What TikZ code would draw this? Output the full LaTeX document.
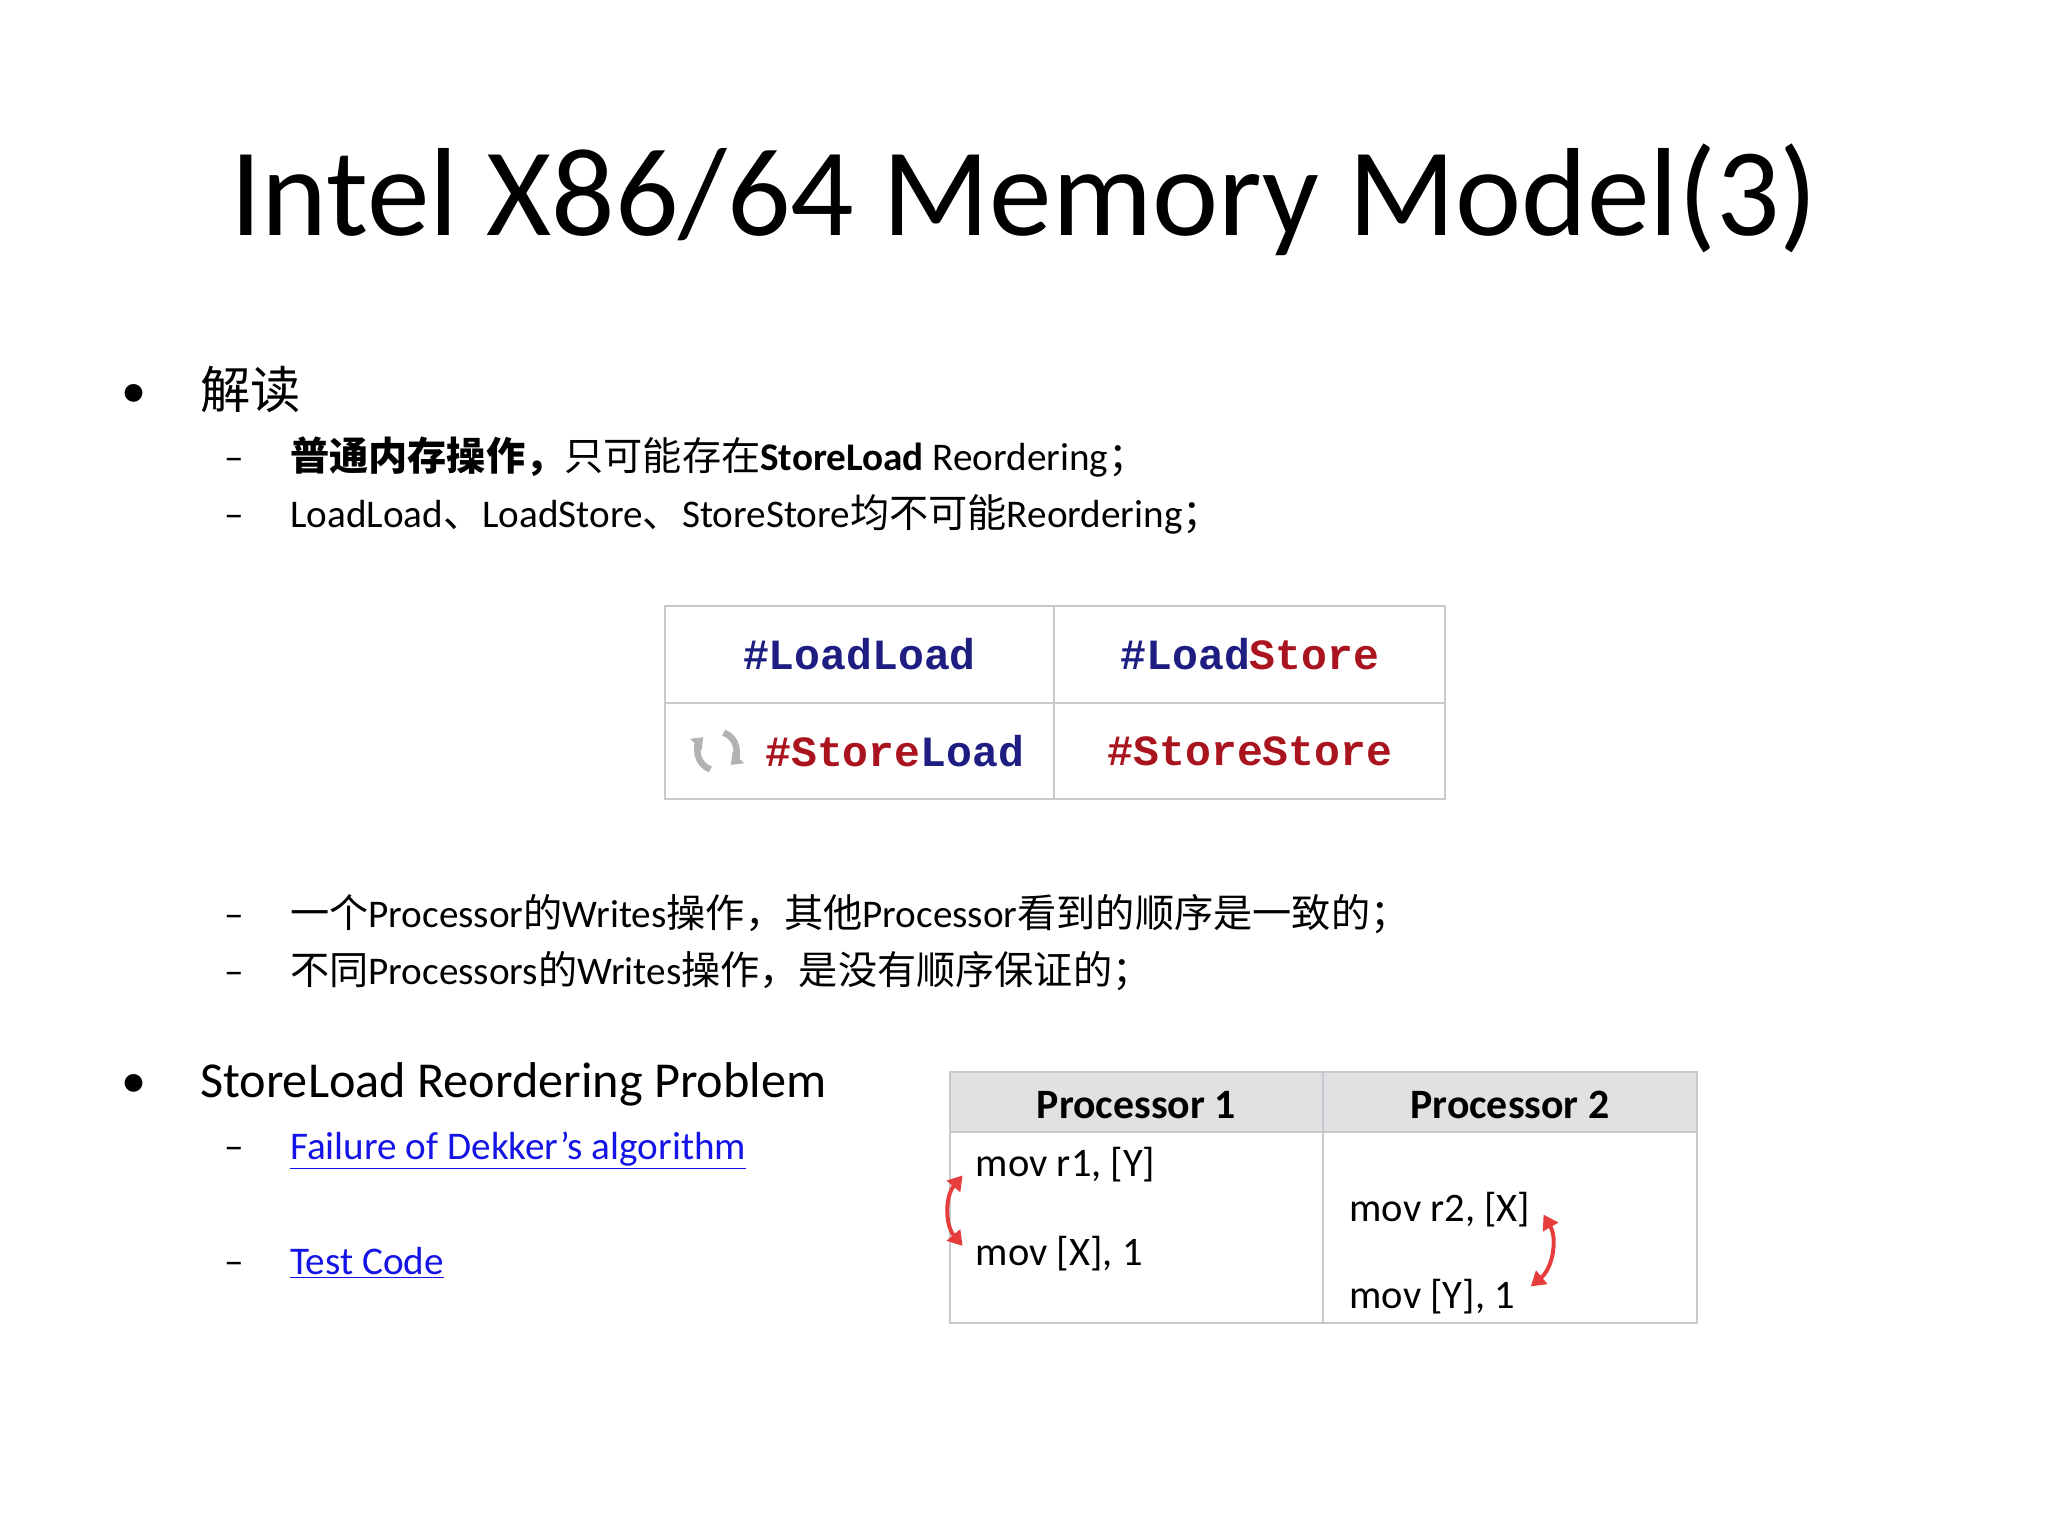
\documentclass[tikz,border=0pt]{standalone}
\usepackage{fontspec}
\setmainfont{Carlito}
\newfontfamily\cjk{Noto Sans CJK SC}
\newfontfamily\monob{Liberation Mono}
\usetikzlibrary{arrows.meta,calc}
\definecolor{kblue}{RGB}{30,30,130}
\definecolor{kred}{RGB}{170,20,30}
\definecolor{lnk}{RGB}{20,20,230}
\definecolor{hdr}{RGB}{225,225,228}
\definecolor{grid}{RGB}{200,200,205}
\definecolor{arr}{RGB}{230,60,60}
\tikzset{
 txt/.style={anchor=base west,inner sep=0pt,font=\fontsize{30}{32}\selectfont},
 big/.style={anchor=base west,inner sep=0pt,font=\fontsize{38.5}{42}\selectfont},
 dashmark/.style={anchor=base west,inner sep=0pt,font=\fontsize{30}{32}\selectfont},
 code/.style={inner sep=0pt,font=\fontsize{33}{35}\monob\bfseries},
 cell/.style={draw=grid,line width=1.5pt},
 instr/.style={anchor=base west,inner sep=0pt,font=\fontsize{31}{33}\selectfont},
 redarr/.style={arr,line width=3pt,{Triangle[length=11pt,width=13pt]}-{Triangle[length=11pt,width=13pt]}},
 icon/.style={gray!60,line width=5pt,-{Triangle[length=8pt,width=12pt]}}
}
\newcommand{\lk}[1]{\textcolor{lnk}{\underline{#1}}}
\begin{document}
\begin{tikzpicture}[x=1pt,y=-1pt]
\fill[white] (0,0) rectangle (1568,1176);
\node[inner sep=0pt,anchor=base,font=\fontsize{96}{100}\selectfont] (title) at (784,180) {Intel X86/64 Memory Model(3)};
% bullets
\node[big] (b1) at (93,312) {•};
\node[big] (t1) at (153,313) {\cjk 解读};
\node[dashmark] (d1) at (172,360) {–};
\node[txt] (l1) at (222,360) {\cjk\bfseries 普通内存操作，\mdseries 只可能存在\rmfamily\bfseries StoreLoad \mdseries Reordering\cjk ；};
\node[dashmark] (d2) at (172,404) {–};
\node[txt] (l2) at (222,404) {LoadLoad{\cjk 、}LoadStore{\cjk 、}StoreStore{\cjk 均不可能}Reordering{\cjk ；}};
% table 1
\draw[cell] (509,464) rectangle (1106,612);
\draw[cell] (807,464) -- (807,612);
\draw[cell] (509,538) -- (1106,538);
\node[code,text=kblue] (ll) at (658,501) {\#LoadLoad};
\node[code] (ls) at (957,501) {\textcolor{kblue}{\#Load}\textcolor{kred}{Store}};
\node[code] (sl) at (685,575) {\textcolor{kred}{\#Store}\textcolor{kblue}{Load}};
\node[code,text=kred] (ss) at (957,575) {\#StoreStore};
\begin{scope}[shift={(549,575)},y=1pt]
\draw[icon] (250:15) arc[start angle=250,end angle=135,radius=15];
\draw[icon] (70:15) arc[start angle=70,end angle=-45,radius=15];
\end{scope}
% more bullets
\node[dashmark] (d3) at (172,710) {–};
\node[txt] (l3) at (222,710) {{\cjk 一个}Processor{\cjk 的}Writes{\cjk 操作，其他}Processor{\cjk 看到的顺序是一致的；}};
\node[dashmark] (d4) at (172,754) {–};
\node[txt] (l4) at (222,754) {{\cjk 不同}Processors{\cjk 的}Writes{\cjk 操作，是没有顺序保证的；}};
\node[big] (b2) at (93,840) {•};
\node[big] (t2) at (153,840) {StoreLoad Reordering Problem};
\node[dashmark] (d5) at (172,888) {–};
\node[txt] (l5) at (222,888) {\lk{Failure of Dekker’s algorithm}};
\node[dashmark] (d6) at (172,976) {–};
\node[txt] (l6) at (222,976) {\lk{Test Code}};
% table 2
\fill[hdr] (727,821) rectangle (1299,867);
\draw[cell] (727,821) rectangle (1299,1013);
\draw[cell] (1013,821) -- (1013,1013);
\draw[cell] (727,867) -- (1299,867);
\node[inner sep=0pt,font=\fontsize{32}{34}\selectfont\bfseries] (p1) at (870,846) {Processor 1};
\node[inner sep=0pt,font=\fontsize{32}{34}\selectfont\bfseries] (p2) at (1156,846) {Processor 2};
\node[instr] (a1) at (747,901) {mov r1, [Y]};
\node[instr] (a2) at (747,969) {mov [X], 1};
\node[instr] (c1) at (1033,935) {mov r2, [X]};
\node[instr] (c2) at (1033,1002) {mov [Y], 1};
\draw[redarr] ($(a1.west)+(-10,8)$) to[bend right=40] ($(a2.west)+(-10,-6)$);
\draw[redarr] ($(c1.east)+(10,4)$) to[bend left=40] ($(c2.east)+(12,-8)$);
\end{tikzpicture}
\end{document}
